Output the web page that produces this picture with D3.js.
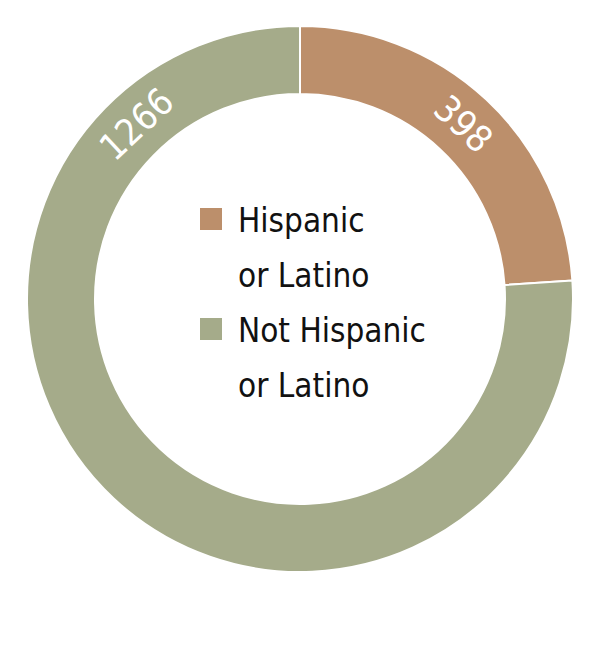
<!DOCTYPE html>
<html>
<head>
<meta charset="utf-8">
<script src="https://cdn.jsdelivr.net/npm/d3@7/dist/d3.min.js"></script>
<style>
  html, body { margin: 0; padding: 0; background: #fff; }
  svg { display: block; }
</style>
</head>
<body>
<svg id="chart" width="600" height="650"></svg>
<script>
const categories = ["Hispanic or Latino", "Not Hispanic or Latino"];
const legendLines = [["Hispanic", "or Latino"], ["Not Hispanic", "or Latino"]];
const values = [398, 1266];
const colors = ["#BC8F6B", "#A5AB8A"];

const W = 600, H = 650;
const cx = 300, cy = 299;
const rOuter = 273, rInner = 205;
const FONT = "'Liberation Sans Narrow', 'DejaVu Sans Condensed', sans-serif";

const svg = d3.select("#chart");
const g = svg.append("g").attr("transform", `translate(${cx},${cy})`);

const data = categories.map((c, i) => ({ name: c, value: values[i], color: colors[i] }));
const pie = d3.pie().value(d => d.value).sort(null);
const arcs = pie(data);
const arc = d3.arc().innerRadius(rInner).outerRadius(rOuter);

g.selectAll("path.slice").data(arcs).join("path")
  .attr("class", "slice")
  .attr("d", arc)
  .attr("fill", d => d.data.color)
  .attr("stroke", "#fff")
  .attr("stroke-width", 2);

// labels: at centroid angle, mirrored into upper half, oriented along tangent
const rLabel = (rInner + rOuter) / 2;
g.selectAll("text.val").data(arcs).join("text")
  .attr("class", "val")
  .attr("transform", d => {
    let a = (d.startAngle + d.endAngle) / 2; // radians from 12 o'clock clockwise
    if (Math.cos(a) < 0) a = Math.PI - a;     // keep in upper half
    const deg = a * 180 / Math.PI;
    const x = rLabel * Math.sin(a), y = -rLabel * Math.cos(a);
    return `translate(${x},${y}) rotate(${deg})`;
  })
  .attr("text-anchor", "middle")
  .attr("dominant-baseline", "central")
  .attr("fill", "#fff")
  .attr("font-family", FONT)
  .attr("font-size", 37)
  .text(d => d.data.value);

// legend
const legend = svg.append("g").attr("transform", "translate(200,208)");
const item = legend.selectAll("g.item").data(data).join("g")
  .attr("class", "item")
  .attr("transform", (d, i) => `translate(0,${i * 110})`);
item.append("rect")
  .attr("width", 22).attr("height", 22)
  .attr("fill", d => d.color);
item.each(function(d, i) {
  const t = d3.select(this).append("text")
    .attr("x", 38)
    .attr("font-family", FONT)
    .attr("font-size", 33)
    .attr("fill", "#111");
  legendLines[i].forEach((ln, j) => {
    t.append("tspan").attr("x", 38).attr("y", 24 + j * 55).text(ln);
  });
});
</script>
</body>
</html>
